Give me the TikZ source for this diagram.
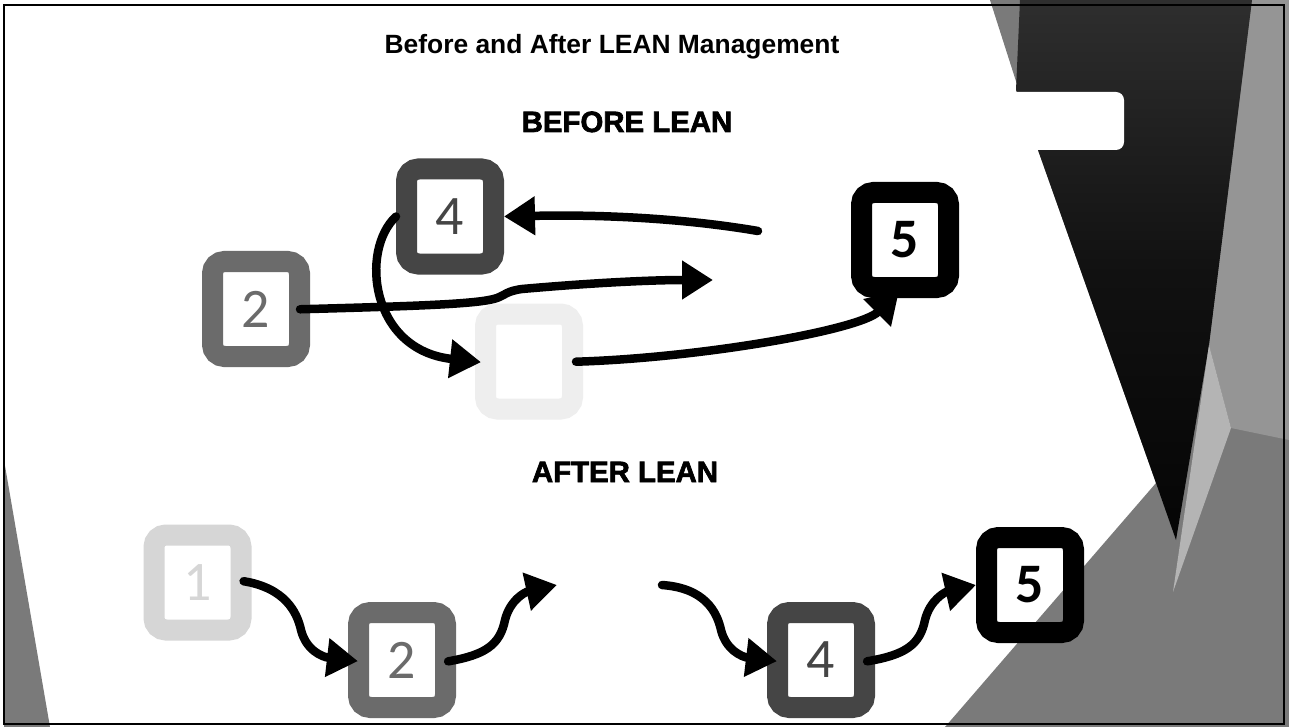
\documentclass[tikz,border=0pt]{standalone}
\usepackage{fontspec}
\setmainfont{Liberation Sans}
\newfontfamily\heavyfont{Liberation Sans}[BoldFeatures={FakeBold=2.2}]
\newfontfamily\digitfont{Carlito}
\usetikzlibrary{arrows.meta,calc}

\definecolor{facetmid}{HTML}{7A7A7A}
\definecolor{facetlight}{HTML}{959595}
\definecolor{facetpale}{HTML}{B4B4B4}
\definecolor{facetdarktop}{HTML}{2E2E2E}
\definecolor{facetdarkbot}{HTML}{050505}
\definecolor{stepmid}{HTML}{6B6B6B}
\definecolor{stepdark}{HTML}{454545}
\definecolor{stepfaint}{HTML}{D6D6D6}
\definecolor{stepghost}{HTML}{EEEEEE}

\begin{document}
\begin{tikzpicture}[x=1bp,y=-1bp,
  stage/.style={rectangle, draw, rounded corners=12bp, line width=21bp,
    minimum width=87bp, minimum height=95bp, inner sep=0pt, outer sep=10.5bp,
    font=\digitfont\fontsize{56}{56}\selectfont},
  midstage/.style={stage, draw=stepmid, text=stepmid},
  darkstage/.style={stage, draw=stepdark, text=stepdark},
  blackstage/.style={stage, draw=black, text=black,
    font=\digitfont\bfseries\fontsize{56}{56}\selectfont},
  faintstage/.style={stage, draw=stepfaint, text=stepfaint},
  ghoststage/.style={stage, draw=stepghost},
  flow/.style={draw=black, line width=8.5bp, line cap=round,
    -{Triangle[length=31bp,width=37bp]}},
  heading/.style={font=\bfseries\fontsize{26.5}{30}\selectfont, anchor=base},
  section/.style={font=\heavyfont\bfseries\fontsize{29.5}{32}\selectfont, anchor=base},
]
\useasboundingbox (0,0) rectangle (1289,727);
\fill[white] (0,0) rectangle (1289,727);

% faceted backdrop on the right
\fill[facetmid] (990,0) -- (1289,0) -- (1289,727) -- (945,727) -- (1156,483)
  -- (1038,150) -- cycle;
\fill[facetlight] (1252,0) -- (1289,0) -- (1289,440) -- (1231,428) -- (1209,345) -- cycle;
\shade[top color=facetdarktop, bottom color=facetdarkbot, middle color=facetdarkbot!70!facetdarktop]
  (1020,0) -- (1252,0) -- (1209,345) -- (1176,540) -- (1156,483) -- (1038,150)
  -- (1016,90) -- cycle;
\fill[facetpale] (1209,345) -- (1231,428) -- (1173,592) -- cycle;
\fill[white, rounded corners=8bp] (1000,92) rectangle (1124,150);
% facet in the lower left corner
\fill[facetmid] (4,460) -- (50,727) -- (4,727) -- cycle;
% frame
\draw[black, line width=2.5bp] (4,5) rectangle (1284,724);

% headings
\node[heading] (title) at (612,54) {Before and After LEAN Management};
\node[section] (before) at (627,132) {BEFORE LEAN};
\node[section] (after) at (625,482) {AFTER LEAN};

% before lean: process steps
\node[midstage] (B2) at (256,309) {2};
\node[darkstage] (B4) at (450,216.5) {4};
\node[blackstage] (B5) at (905,240) {5};
\node[ghoststage] (B3) at (529,361.5) {};
\coordinate (bIn) at (713,280);
\coordinate (bOut) at (758,231);

% after lean: process steps
\node[faintstage] (A1) at (197.5,582.5) {1};
\node[midstage] (A2) at (402,660) {2};
\node[darkstage] (A4) at (821,660) {4};
\node[blackstage] (A5) at (1030,585) {5};
\coordinate (aIn) at (557,585);
\coordinate (aOut) at (662,585);

% before lean: tangled flow
\draw[flow] (bOut) .. controls (700,221) and (620,214) .. (B4.east);
\draw[flow, shorten <=-10bp] (B2.east) .. controls (420,306) and (480,304) .. (497,298)
  .. controls (505,295) and (507,291) .. (522,289)
  .. controls (590,283) and (650,280) .. (bIn);
\draw[flow, shorten >=-6bp] (B4.west) .. controls (360,250) and (370,350) .. (B3.west);
\draw[flow, shorten <=-7bp] (B3.east) .. controls (700,358) and (860,330)
  .. ($(B5.south)+(-6,-7)$);

% after lean: straight flow
\draw[flow, shorten <=-8bp, shorten >=-10bp] (A1.east) .. controls (285,588) and (297,612)
  .. (301,630) .. controls (306,650) and (322,657) .. (A2.west);
\draw[flow, shorten <=-8bp] (A2.east) .. controls (485,655) and (500,645)
  .. (505,620) .. controls (510,600) and (525,592) .. (aIn);
\draw[flow, shorten >=-10bp] (aOut) .. controls (705,588) and (717,612)
  .. (721,630) .. controls (726,650) and (742,657) .. (A4.west);
\draw[flow, shorten <=-8bp] (A4.east) .. controls (905,655) and (920,645)
  .. (925,620) .. controls (930,600) and (945,592) .. (A5.west);
\end{tikzpicture}
\end{document}
